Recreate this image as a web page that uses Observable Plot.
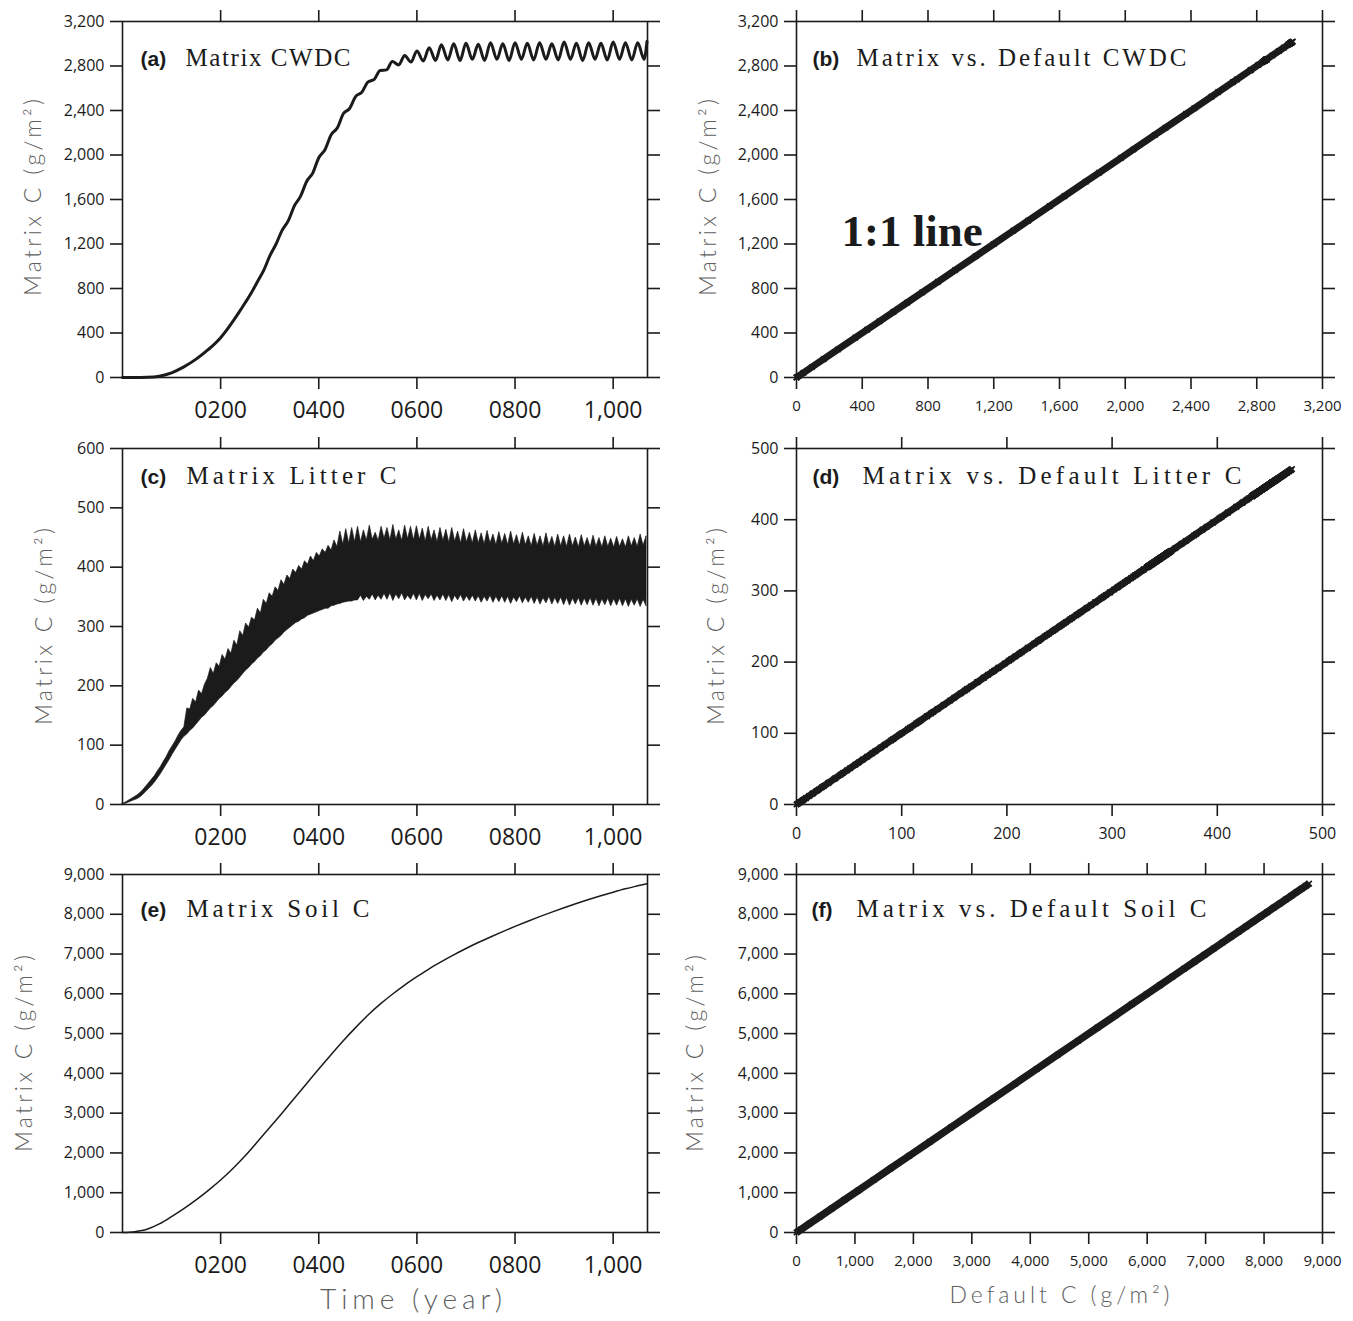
<!DOCTYPE html>
<html>
<head>
<meta charset="utf-8">
<script src="https://cdn.jsdelivr.net/npm/d3@7"></script>
<script src="https://cdn.jsdelivr.net/npm/@observablehq/plot@0.6"></script>
<style>
  html, body { margin: 0; padding: 0; background: #fff; }
  #wrap { position: relative; width: 1353px; height: 1321px; background: #fff; overflow: hidden; }
  #wrap svg { position: absolute; background: transparent; overflow: visible; }
</style>
</head>
<body>
<div id="wrap"></div>
<script>
// ---------------- DATA ----------------
// (a) Matrix CWDC time series (year, g/m2)
const cwdcYear = [0,25,50,75,100,125,150,175,200,213,225,238,250,263,275,288,300,313,325,338,350,363,375,388,400,413,425,438,450,463,475,488,500,513,525,538,550,563,575,588,600,613,625,638,650,663,675,688,700,713,725,738,750,763,775,788,800,813,825,838,850,863,875,888,900,913,925,938,950,963,975,988,1000,1013,1025,1038,1050,1063,1069];
const cwdcValue = [0,0,2,12,42,95,165,252,358,430,505,590,672,765,860,965,1090,1200,1320,1410,1540,1630,1760,1840,1975,2050,2180,2245,2370,2420,2525,2565,2655,2680,2760,2765,2840,2810,2895,2835,2935,2845,2965,2850,2990,2855,3000,2850,3005,2860,2995,2850,3010,2860,3000,2850,3010,2860,3005,2855,3010,2860,3000,2855,3015,2860,3005,2850,3010,2860,3005,2855,3015,2860,3010,2855,3010,2860,3020];

// (c) Matrix litter C: envelope of the dense band, sampled every 6 years from year 0
const litterStepYears = 6;
const litterUpper = [
  1,3,6,9,12,15,19,24,30,36,
  42,48,56,63,72,80,90,98,106,116,
  124,130,162,160,178,172,192,186,202,212,
  230,220,238,232,252,244,262,254,276,268,
  292,284,305,298,315,310,330,322,345,338,
  356,350,366,360,378,370,386,380,396,390,
  402,396,410,404,418,410,424,418,430,424,
  436,428,445,434,460,438,464,440,466,442,
  468,442,462,445,470,446,458,444,468,448,
  466,445,471,446,462,444,470,447,468,445,
  469,446,465,443,468,445,462,442,466,444,
  463,441,466,443,460,440,464,442,458,440,
  462,440,457,438,461,440,455,437,459,439,
  456,437,460,438,454,436,458,437,452,435,
  456,436,452,434,457,436,451,434,455,435,
  452,434,455,435,450,433,454,435,449,433,
  453,434,449,433,452,434,448,433,451,434,
  447,433,452,435,449,434,455,436,452
];
const litterLower = [
  0,1,3,5,7,9,12,16,21,26,
  31,37,44,51,59,67,75,84,92,100,
  108,114,118,124,128,134,140,146,150,156,
  162,166,172,178,182,188,192,198,204,208,
  214,220,226,230,236,240,246,250,256,260,
  266,270,276,280,284,290,294,298,302,306,
  308,312,314,318,320,322,324,326,328,330,
  330,334,335,337,338,340,341,342,342,344,
  344,352,343,350,345,354,344,352,345,355,
  345,356,343,354,346,356,344,352,345,355,
  344,355,343,353,346,354,343,352,344,354,
  343,353,341,352,344,353,342,351,343,352,
  342,351,340,350,342,352,340,350,341,351,
  340,350,338,349,341,351,339,349,340,350,
  338,349,337,348,339,350,337,348,338,349,
  336,348,335,347,337,348,335,347,336,348,
  335,347,334,346,336,347,334,346,335,347,
  334,346,333,345,335,346,333,345,334
];

// (e) Matrix soil C time series
const soilYear = [0,25,50,75,100,125,150,175,200,225,250,275,300,325,350,375,400,425,450,475,500,525,550,575,600,625,650,675,700,725,750,775,800,825,850,875,900,925,950,975,1000,1025,1050,1069];
const soilValue = [0,20,80,215,400,600,820,1060,1320,1610,1930,2280,2640,3000,3370,3740,4110,4470,4820,5150,5460,5740,5990,6220,6430,6630,6810,6980,7140,7290,7430,7565,7695,7820,7940,8055,8165,8270,8370,8465,8555,8640,8715,8770];

// Ticks and labels
const timeTicks = [200, 400, 600, 800, 1000];
const timeTickLabels = ["0200", "0400", "0600", "0800", "1,000"];
const cwdcTicks = [0, 400, 800, 1200, 1600, 2000, 2400, 2800, 3200];
const litterTicks = [0, 100, 200, 300, 400, 500, 600];
const litterScatterTicks = [0, 100, 200, 300, 400, 500];
const soilTicks = [0, 1000, 2000, 3000, 4000, 5000, 6000, 7000, 8000, 9000];

const panelTags = ["(a)", "(b)", "(c)", "(d)", "(e)", "(f)"];
const panelTitles = ["Matrix CWDC", "Matrix vs. Default CWDC", "Matrix Litter C",
                     "Matrix vs. Default Litter C", "Matrix Soil C", "Matrix vs. Default Soil C"];
const yAxisLabel = "Matrix C (g/m²)";
const timeAxisLabel = "Time (year)";
const defaultAxisLabel = "Default C (g/m²)";
const oneToOneLabel = "1:1 line";

// ---------------- TABLES ----------------
const cwdcRows = cwdcYear.map((t, i) => ({t, v: cwdcValue[i]}));
const litterRows = litterUpper.map((hi, i) => ({t: i * litterStepYears, hi, lo: litterLower[i]}));
const soilRows = soilYear.map((t, i) => ({t, v: soilValue[i]}));
const cwdcPairs = d3.sort(cwdcValue).map(v => ({def: v, mat: v}));
const litterPairs = d3.sort(litterLower.concat(litterUpper)).map(v => ({def: v, mat: v}));
const soilPairs = d3.sort(soilValue).map(v => ({def: v, mat: v}));

// ---------------- DRAWING ----------------
const wrap = document.getElementById("wrap");
const INK = "#1b1b1b";
const GREY = "#5e5e5e";
const TICKFONT = "'Open Sans', 'DejaVu Sans', sans-serif";
const LABELFONT = "Lato, 'Open Sans', sans-serif";
const comma = d3.format(",");
const Y_LABEL_LEN = 197;

const cols = [
  {left: 0, width: 676, ml: 122, mr: 29},
  {left: 676, width: 677, ml: 120, mr: 31}
];
const rows = [
  {top: 0, height: 430, mt: 21, mb: 53, titleDy: 44},
  {top: 430, height: 430, mt: 18, mb: 56, titleDy: 35},
  {top: 860, height: 461, mt: 14, mb: 89, titleDy: 42}
];

function stretch(svg, str, len) {
  svg.querySelectorAll("text").forEach(t => {
    if (t.textContent === str) {
      t.setAttribute("textLength", len);
      t.setAttribute("lengthAdjust", "spacing");
    }
  });
}

function makePanel(cfg) {
  const col = cols[cfg.col], row = rows[cfg.row];
  const marks = [
    ...cfg.marks,
    Plot.frame({stroke: INK, strokeWidth: 1.6}),
    Plot.axisX({ticks: cfg.xTicks, anchor: "bottom", tickSize: 12, tickPadding: cfg.xPad,
      tickFormat: cfg.xFormat, fontSize: cfg.xFont, fontFamily: TICKFONT, label: null,
      color: INK, strokeWidth: 1.6}),
    Plot.axisX({ticks: cfg.xTicks, anchor: "top", tickSize: 12, tickFormat: () => "",
      label: null, color: INK, strokeWidth: 1.6}),
    Plot.axisY({ticks: cfg.yTicks, anchor: "left", tickSize: 12, tickPadding: 6,
      tickFormat: comma, fontSize: cfg.yFont, fontFamily: TICKFONT, label: null,
      color: INK, strokeWidth: 1.6}),
    Plot.axisY({ticks: cfg.yTicks, anchor: "right", tickSize: 12, tickFormat: () => "",
      label: null, color: INK, strokeWidth: 1.6}),
    Plot.text([panelTags[cfg.idx]], {frameAnchor: "top-left", dx: cfg.tagDx, dy: row.titleDy,
      lineAnchor: "bottom", textAnchor: "start", text: d => d,
      fontFamily: "'Liberation Sans', Arial, sans-serif", fontWeight: "bold", fontSize: 21, fill: INK}),
    Plot.text([panelTitles[cfg.idx]], {frameAnchor: "top-left", dx: cfg.titleDx, dy: row.titleDy,
      lineAnchor: "bottom", textAnchor: "start", text: d => d,
      fontFamily: "'Liberation Serif', 'Times New Roman', serif", fontSize: 25, fill: INK}),
    // rotated y label: anchored at its start (bottom end), stretched to a fixed length
    Plot.text([yAxisLabel], {frameAnchor: "left", dx: cfg.yLabelDx, dy: Y_LABEL_LEN / 2 + cfg.yLabelShift,
      rotate: -90, textAnchor: "start", text: d => d,
      fontFamily: LABELFONT, fontWeight: 300, fontSize: 23, fill: GREY}),
    ...(cfg.extra || [])
  ];
  const svg = Plot.plot({
    width: col.width, height: row.height,
    marginLeft: col.ml, marginRight: col.mr, marginTop: row.mt, marginBottom: row.mb,
    x: {domain: cfg.xDomain},
    y: {domain: cfg.yDomain},
    style: {background: "transparent", overflow: "visible", fontFamily: TICKFONT},
    marks
  });
  svg.style.left = col.left + "px";
  svg.style.top = row.top + "px";
  stretch(svg, panelTitles[cfg.idx], cfg.titleLen);
  stretch(svg, yAxisLabel, Y_LABEL_LEN);
  if (cfg.xLabel) stretch(svg, cfg.xLabel, cfg.xLabelLen);
  wrap.appendChild(svg);
}

const timeFormat = d => timeTickLabels[timeTicks.indexOf(d)];

function scatterMarks(pairs, w) {
  return [
    Plot.line(pairs, {x: "def", y: "mat", stroke: INK, strokeWidth: w, strokeLinecap: "butt"}),
    Plot.dot(pairs, {x: "def", y: "mat", symbol: "times", r: 2.6, stroke: INK, strokeWidth: 1.6})
  ];
}

// (a)
makePanel({idx: 0, col: 0, row: 0, xDomain: [0, 1070], yDomain: [0, 3200],
  xTicks: timeTicks, xFormat: timeFormat, xFont: 23, xPad: 12,
  yTicks: cwdcTicks, yFont: 16, tagDx: 18, titleDx: 63, titleLen: 165, yLabelDx: -89, yLabelShift: -2,
  marks: [Plot.line(cwdcRows, {x: "t", y: "v", stroke: INK, strokeWidth: 3, curve: "monotone-x"})]
});
// (b)
makePanel({idx: 1, col: 1, row: 0, xDomain: [0, 3200], yDomain: [0, 3200],
  xTicks: cwdcTicks, xFormat: comma, xFont: 15, xPad: 11,
  yTicks: cwdcTicks, yFont: 16, tagDx: 16, titleDx: 60, titleLen: 330, yLabelDx: -88, yLabelShift: -2,
  marks: scatterMarks(cwdcPairs, 7),
  extra: [Plot.text([oneToOneLabel], {frameAnchor: "top-left", dx: 45, dy: 224, lineAnchor: "bottom",
    textAnchor: "start", text: d => d, fontFamily: "'Liberation Serif', 'Times New Roman', serif",
    fontWeight: "bold", fontSize: 45, fill: INK})]
});
// (c)
makePanel({idx: 2, col: 0, row: 1, xDomain: [0, 1070], yDomain: [0, 600],
  xTicks: timeTicks, xFormat: timeFormat, xFont: 23, xPad: 12,
  yTicks: litterTicks, yFont: 16, tagDx: 18, titleDx: 64, titleLen: 210, yLabelDx: -78, yLabelShift: 0,
  marks: [Plot.areaY(litterRows, {x: "t", y1: "lo", y2: "hi", fill: INK, stroke: INK, strokeWidth: 0.7})]
});
// (d)
makePanel({idx: 3, col: 1, row: 1, xDomain: [0, 500], yDomain: [0, 500],
  xTicks: litterScatterTicks, xFormat: comma, xFont: 16, xPad: 11,
  yTicks: litterScatterTicks, yFont: 16, tagDx: 16, titleDx: 66, titleLen: 379, yLabelDx: -80, yLabelShift: 0,
  marks: scatterMarks(litterPairs, 7)
});
// (e)
makePanel({idx: 4, col: 0, row: 2, xDomain: [0, 1070], yDomain: [0, 9000],
  xTicks: timeTicks, xFormat: timeFormat, xFont: 23, xPad: 12,
  yTicks: soilTicks, yFont: 16, tagDx: 18, titleDx: 64, titleLen: 183, yLabelDx: -98, yLabelShift: 0,
  xLabel: timeAxisLabel, xLabelLen: 182,
  marks: [Plot.line(soilRows, {x: "t", y: "v", stroke: INK, strokeWidth: 1.5, curve: "monotone-x"})],
  extra: [Plot.text([timeAxisLabel], {frameAnchor: "bottom", dx: 26, dy: 76, text: d => d,
    fontFamily: LABELFONT, fontWeight: 300, fontSize: 28, fill: GREY})]
});
// (f)
makePanel({idx: 5, col: 1, row: 2, xDomain: [0, 9000], yDomain: [0, 9000],
  xTicks: soilTicks, xFormat: comma, xFont: 15, xPad: 11,
  yTicks: soilTicks, yFont: 16, tagDx: 15, titleDx: 60, titleLen: 350, yLabelDx: -101, yLabelShift: 0,
  xLabel: defaultAxisLabel, xLabelLen: 220,
  marks: scatterMarks(soilPairs, 7.5),
  extra: [Plot.text([defaultAxisLabel], {frameAnchor: "bottom", dx: 0, dy: 70, text: d => d,
    fontFamily: LABELFONT, fontWeight: 300, fontSize: 23, fill: GREY})]
});
</script>
</body>
</html>
